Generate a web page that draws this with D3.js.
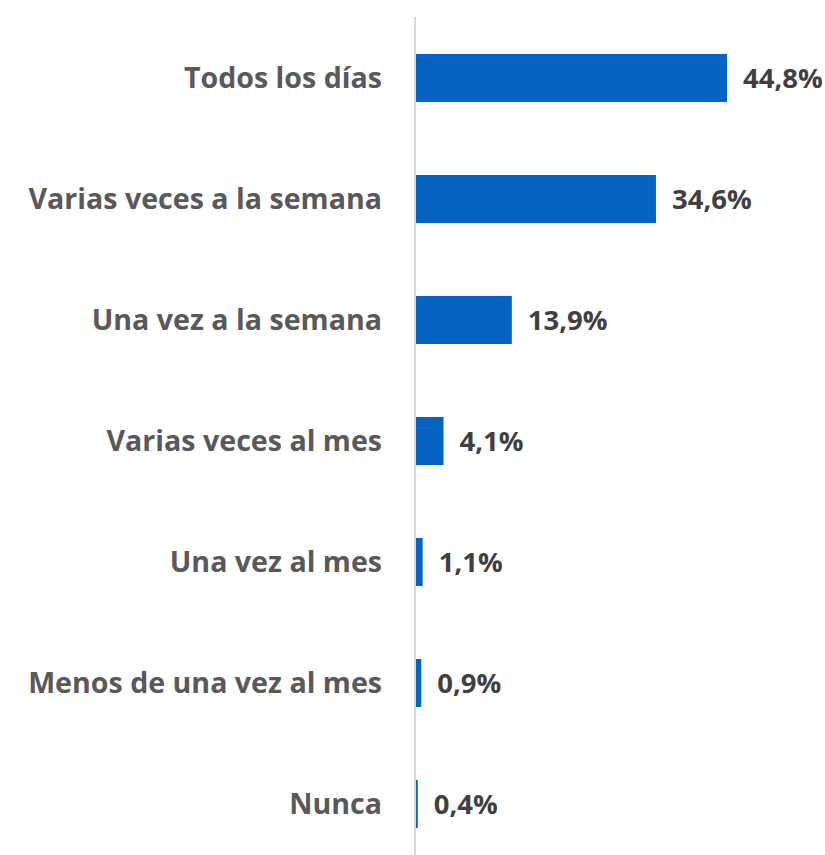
<!DOCTYPE html>
<html>
<head>
<meta charset="utf-8">
<script src="https://cdn.jsdelivr.net/npm/d3@7"></script>
<style>
  html, body { margin: 0; padding: 0; background: #ffffff; }
  svg { display: block; }
</style>
</head>
<body>
<svg id="chart" width="825" height="855"></svg>
<script>
// Frequency categories and their shares (%)
const categories = [
  "Todos los días",
  "Varias veces a la semana",
  "Una vez a la semana",
  "Varias veces al mes",
  "Una vez al mes",
  "Menos de una vez al mes",
  "Nunca"
];
const values = [44.8, 34.6, 13.9, 4.1, 1.1, 0.9, 0.4];
const valueLabels = ["44,8%", "34,6%", "13,9%", "4,1%", "1,1%", "0,9%", "0,4%"];

const svg = d3.select("#chart");
const fontFamily = "'Open Sans', 'Noto Sans', sans-serif";

const x = d3.scaleLinear().domain([0, 44.8]).range([415, 727]);
const y = d3.scaleBand()
  .domain(categories)
  .range([17.5, 864.5])
  .paddingInner(0.603)
  .paddingOuter(0.3015);

// Bars
svg.append("g")
  .selectAll("rect")
  .data(values)
  .join("rect")
  .attr("x", x(0))
  .attr("y", (d, i) => y(categories[i]))
  .attr("width", d => x(d) - x(0))
  .attr("height", y.bandwidth())
  .attr("fill", "#0563C1");

// Category axis line
svg.append("line")
  .attr("x1", 415).attr("x2", 415)
  .attr("y1", 17).attr("y2", 855)
  .attr("stroke", "#d9d9d9")
  .attr("stroke-width", 2);

// Category labels
svg.append("g")
  .selectAll("text")
  .data(categories)
  .join("text")
  .attr("x", 382)
  .attr("y", d => y(d) + y.bandwidth() / 2)
  .attr("dy", "0.36em")
  .attr("text-anchor", "end")
  .attr("font-family", fontFamily)
  .attr("font-weight", 700)
  .attr("font-size", 28.6)
  .attr("fill", "#595959")
  .text(d => d);

// Value labels
svg.append("g")
  .selectAll("text")
  .data(values)
  .join("text")
  .attr("x", d => x(d) + 16)
  .attr("y", (d, i) => y(categories[i]) + y.bandwidth() / 2)
  .attr("dy", "0.36em")
  .attr("font-family", fontFamily)
  .attr("font-weight", 700)
  .attr("font-size", 27.5)
  .attr("fill", "#404040")
  .text((d, i) => valueLabels[i]);
</script>
</body>
</html>
